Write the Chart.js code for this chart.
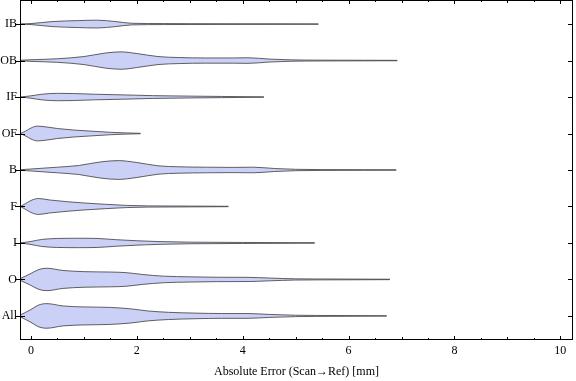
<!DOCTYPE html>
<html><head><meta charset="utf-8">
<script src="https://cdn.jsdelivr.net/npm/chart.js@4/dist/chart.umd.min.js"></script>
<style>html,body{margin:0;padding:0;background:#fff}</style>
</head><body>
<canvas id="c" width="576" height="381"></canvas>
<script>
// Categories (top to bottom) and axis text
const categories = ["IB", "OB", "IF", "OF", "B", "F", "I", "O", "All"];
const xTickValues = [0, 2, 4, 6, 8, 10];
const xTitle = "Absolute Error (Scan\u2192Ref) [mm]";

// Smoothed density profiles: error positions (mm) and relative densities
const IB_x = [-0.2, 0, 0.4, 0.9, 1.25, 1.6, 1.9, 2.5, 3.0, 4.0, 5.43];
const IB_d = [0, 0.5, 2.5, 3.5, 3.9, 2.5, 0.8, 0.5, 0.4, 0.3, 0.2];

const OB_x = [-0.2, 0, 0.5, 1.0, 1.4, 1.7, 2.0, 2.4, 2.8, 3.3, 3.8, 4.1, 4.5, 4.9, 5.5, 6.3, 6.92];
const OB_d = [0.3, 0.8, 1.8, 4.0, 7.5, 8.7, 7.0, 4.0, 3.0, 2.6, 2.6, 2.8, 1.5, 0.7, 0.4, 0.3, 0.2];

const IF_x = [-0.2, 0, 0.2, 0.5, 0.8, 1.2, 1.7, 2.3, 3.0, 3.6, 4.4];
const IF_d = [0, 1.2, 2.8, 3.7, 3.5, 2.8, 2.2, 1.4, 0.9, 0.6, 0.2];

const OF_x = [-0.2, -0.1, 0, 0.12, 0.3, 0.5, 0.8, 1.1, 1.5, 1.8, 2.07];
const OF_d = [0, 2.5, 5.5, 7.4, 6.5, 5.0, 3.5, 2.5, 1.2, 0.6, 0.2];

const B_x = [-0.2, 0, 0.5, 0.9, 1.3, 1.65, 2.0, 2.4, 2.8, 3.3, 3.8, 4.2, 4.6, 5.0, 5.5, 6.3, 6.9];
const B_d = [0.3, 1.0, 2.8, 4.5, 8.0, 9.4, 7.5, 4.2, 3.2, 2.8, 2.6, 2.8, 1.5, 0.7, 0.4, 0.3, 0.2];

const F_x = [-0.2, -0.1, 0, 0.14, 0.35, 0.7, 1.0, 1.4, 1.8, 2.2, 3.0, 3.73];
const F_d = [0, 3, 6, 8, 6.5, 4.7, 3.5, 2.2, 1.1, 0.6, 0.4, 0.2];

const I_x = [-0.2, 0, 0.2, 0.5, 0.9, 1.25, 1.6, 2.0, 2.4, 3.0, 4.0, 5.36];
const I_d = [0, 1.5, 3.5, 4.5, 4.7, 4.5, 3.3, 2.2, 1.4, 0.8, 0.5, 0.2];

const O_x = [-0.25, -0.2, 0, 0.15, 0.3, 0.6, 1.0, 1.5, 1.8, 2.1, 2.5, 3.0, 3.5, 4.1, 4.5, 5.0, 5.8, 6.78];
const O_d = [0, 1, 6, 10, 11.2, 9, 7.8, 7.4, 6.8, 5, 3.3, 2.6, 2.2, 2.1, 1.4, 0.6, 0.4, 0.2];

const All_x = [-0.25, -0.2, 0, 0.15, 0.3, 0.6, 1.0, 1.5, 1.9, 2.2, 2.6, 3.1, 3.6, 4.1, 4.5, 5.0, 5.8, 6.72];
const All_d = [0, 1, 6.5, 11, 12.3, 10, 9, 8.5, 7, 5, 3.6, 2.8, 2.4, 2.4, 1.5, 0.7, 0.4, 0.2];

const profiles = {
  IB: [IB_x, IB_d], OB: [OB_x, OB_d], IF: [IF_x, IF_d], OF: [OF_x, OF_d],
  B: [B_x, B_d], F: [F_x, F_d], I: [I_x, I_d], O: [O_x, O_d], All: [All_x, All_d]
};

const DENSITY_SCALE = 1 / 36.5;   // density -> category-axis half width
const FILL = "rgb(203,208,246)";
const EDGE = "rgba(70,70,70,0.85)";
const FONT = "'Liberation Serif', 'Times New Roman', serif";

const n = categories.length;
const datasets = [];
categories.forEach((cat, i) => {
  const center = n - i;
  const [xs, ds] = profiles[cat];
  const common = {
    borderColor: EDGE, borderWidth: 1, pointRadius: 0, backgroundColor: FILL,
    cubicInterpolationMode: 'monotone', tension: 0.4
  };
  datasets.push(Object.assign({}, common, {
    label: cat + " upper",
    data: xs.map((x, k) => ({ x: x, y: center + ds[k] * DENSITY_SCALE })),
    fill: false
  }));
  datasets.push(Object.assign({}, common, {
    label: cat + " lower",
    data: xs.map((x, k) => ({ x: x, y: center - ds[k] * DENSITY_SCALE })),
    fill: '-1'
  }));
});

const framePlugin = {
  id: 'frame',
  afterDatasetsDraw(chart) {
    const { ctx, chartArea: a, scales: { x, y } } = chart;
    ctx.save();
    ctx.strokeStyle = '#000';
    ctx.lineWidth = 1;
    ctx.beginPath();
    for (let v = 0; v <= 10.001; v += 0.5) {
      const px = Math.round(x.getPixelForValue(v)) + 0.5;
      const isMajor = Math.abs(v % 2) < 1e-6;
      const isMid = !isMajor && Math.abs(v % 1) < 1e-6;
      const len = isMajor ? 4 : (isMid ? 3 : 2);
      ctx.moveTo(px, a.bottom); ctx.lineTo(px, a.bottom - len);
      ctx.moveTo(px, a.top); ctx.lineTo(px, a.top + len);
    }
    categories.forEach((c, i) => {
      const py = Math.round(y.getPixelForValue(n - i)) + 0.5;
      ctx.moveTo(a.left - 5, py); ctx.lineTo(a.left + 5, py);
      ctx.moveTo(a.right, py); ctx.lineTo(a.right - 5, py);
    });
    ctx.stroke();
    ctx.strokeRect(Math.round(a.left) + 0.5, Math.round(a.top) + 0.5,
      Math.round(a.right - a.left) - 1, Math.round(a.bottom - a.top) - 1);
    ctx.restore();
  }
};

const noPad = s => { s.paddingTop = 0; s.paddingBottom = 0; s.paddingLeft = 0; s.paddingRight = 0; };

new Chart(document.getElementById('c'), {
  type: 'line',
  data: { datasets },
  options: {
    responsive: false, animation: false, devicePixelRatio: 1,
    layout: { padding: { left: 0, right: 3, top: 0, bottom: 0 } },
    plugins: { legend: { display: false }, tooltip: { enabled: false } },
    elements: { line: { borderJoinStyle: 'round' } },
    scales: {
      x: {
        type: 'linear', min: -0.208, max: 10.24,
        afterBuildTicks: s => { s.ticks = xTickValues.map(v => ({ value: v })); },
        afterFit: s => { s.height = 41; noPad(s); },
        grid: { display: false, drawTicks: false },
        border: { display: false },
        ticks: { color: '#000', font: { family: FONT, size: 12 }, padding: 4, maxRotation: 0, autoSkip: false },
        title: { display: true, text: xTitle, color: '#000', font: { family: FONT, size: 12 }, padding: { top: 0, bottom: 2 } }
      },
      y: {
        type: 'linear', min: 0.34, max: 9.66,
        afterBuildTicks: s => { s.ticks = categories.map((c, i) => ({ value: n - i })); },
        afterFit: s => { s.width = 20; noPad(s); },
        grid: { display: false, drawTicks: false },
        border: { display: false },
        ticks: {
          color: '#000', font: { family: FONT, size: 12 }, padding: 3, autoSkip: false,
          callback: v => categories[n - v]
        }
      }
    }
  },
  plugins: [framePlugin]
});
</script>
</body></html>
